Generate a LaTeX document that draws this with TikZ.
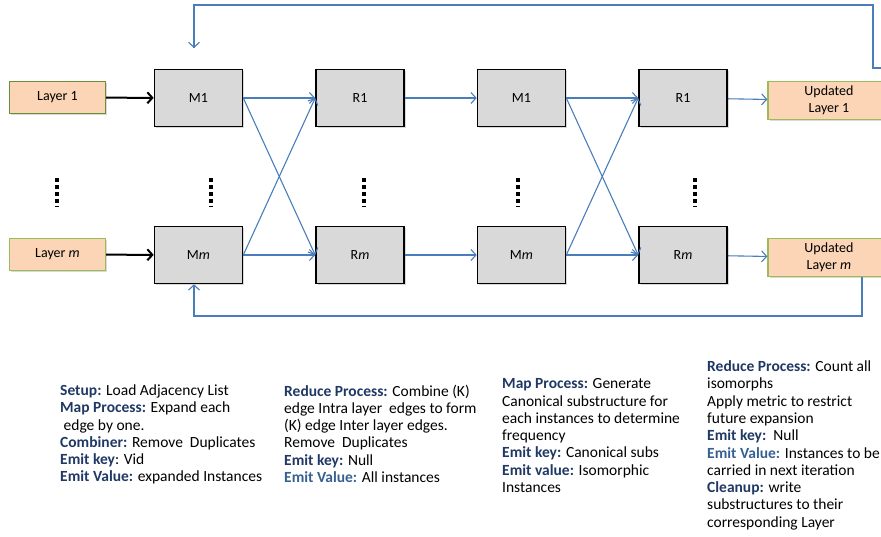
\documentclass[tikz,border=0pt]{standalone}
\usepackage{fontspec}
\setmainfont{Carlito}
\usetikzlibrary{arrows.meta,shadows}
\definecolor{flowblue}{HTML}{4A7EBB}
\definecolor{labnavy}{HTML}{1F3864}
\definecolor{lablight}{HTML}{376092}
\definecolor{peach}{HTML}{FBD5B5}
\definecolor{greenedge}{HTML}{9BBB59}
\definecolor{darkgreenedge}{HTML}{6B8E3A}
\definecolor{boxgray}{HTML}{D9D9D9}
\newcommand{\lab}[1]{\textbf{\color{labnavy}#1}}
\newcommand{\labl}[1]{\textbf{\color{lablight}#1}}
\tikzset{
  task/.style={draw=black, line width=1.6pt, fill=boxgray, minimum width=88pt,
    minimum height=57pt, inner sep=0pt,
    drop shadow={shadow xshift=1.5pt, shadow yshift=-1.5pt, opacity=0.3}},
  layerbox/.style={draw=greenedge, line width=1.3pt, fill=peach, minimum width=96pt,
    minimum height=32pt, inner sep=0pt,
    drop shadow={shadow xshift=1.5pt, shadow yshift=-1.5pt, opacity=0.3}},
  outbox/.style={layerbox, minimum width=122pt, minimum height=38pt, align=center},
  flow/.style={draw=flowblue, line width=1.1pt, -{Straight Barb[length=5pt,width=11pt]}},
  feed/.style={draw=flowblue, line width=1.1pt},
  load/.style={draw=black, line width=2pt, -{Straight Barb[length=5pt,width=11pt]}},
  vdots/.style={draw=black, line width=3.5pt, dash pattern=on 3.5pt off 3.5pt},
  notes/.style={anchor=north west, inner sep=0pt, align=left, font=\fontsize{15.5}{17.3}\selectfont}
}
\begin{document}
\begin{tikzpicture}[x=1pt, y=-1pt, font=\fontsize{14}{17.3}\selectfont]
\useasboundingbox (0,0) rectangle (881,536);

% input layers
\node[layerbox, draw=darkgreenedge] (L1) at (57.5,97.5) {Layer 1};
\node[layerbox] (Lm) at (57.5,254.5) {Layer \textit{m}};

% first map/reduce round
\node[task] (M1a) at (198.5,98) {M1};
\node[task] (Mma) at (198.5,255) {M\textit{m}};
\node[task] (R1a) at (360,98) {R1};
\node[task] (Rma) at (360,255) {R\textit{m}};

% second map/reduce round
\node[task] (M1b) at (521.5,98) {M1};
\node[task] (Mmb) at (521.5,255) {M\textit{m}};
\node[task] (R1b) at (683,98) {R1};
\node[task] (Rmb) at (683,255) {R\textit{m}};

% output layers
\node[outbox] (U1) at (829,100.5) {Updated\\Layer 1};
\node[outbox] (Um) at (829,257.5) {Updated\\Layer \textit{m}};

% vertical ellipses between rows
\foreach \x in {57,211,364,518,695}
  \draw[vdots] (\x,178) -- (\x,207);

% loading edges
\draw[load] (L1) -- (M1a);
\draw[load] (Lm) -- (Mma);

% shuffle edges, first round
\draw[flow] (M1a.east) -- (R1a.west);
\draw[flow] (Mma.east) -- (Rma.west);
\draw[flow] (M1a.east) -- (Rma.west);
\draw[flow] (Mma.east) -- (R1a.west);

% reduce to map
\draw[flow] (R1a) -- (M1b);
\draw[flow] (Rma) -- (Mmb);

% shuffle edges, second round
\draw[flow] (M1b.east) -- (R1b.west);
\draw[flow] (Mmb.east) -- (Rmb.west);
\draw[flow] (M1b.east) -- (Rmb.west);
\draw[flow] (Mmb.east) -- (R1b.west);

% reduce to output
\draw[flow] (R1b) -- (U1);
\draw[flow] (Rmb) -- (Um);

% iteration feedback loops
\coordinate (topin) at (894,68);
\coordinate (topdrop) at (194,48);
\draw[feed] (topin) -- (873,68) -- (873,5) -- (194,5) -- (topdrop);
\draw[flow] (194,40) -- (topdrop);
\draw[feed] (Um.south -| 862,0) -- (862,316) -- (194,316) -- (194,300);
\draw[flow] (194,300) -- (Mma.south -| 194,0);

% descriptions
\node[notes] (n1) at (60,384.5) {\lab{Setup:} Load Adjacency List\\
\lab{Map Process:} Expand each\\
\ edge by one.\\
\lab{Combiner:} Remove\ \ Duplicates\\
\lab{Emit key}: Vid\\
\lab{Emit Value:} expanded Instances};
\node[notes] (n2) at (284,384.5) {\lab{Reduce Process:} Combine (K)\\
edge Intra layer\ \ edges to form\\
(K) edge Inter layer edges.\\
Remove\ \ Duplicates\\
\lab{Emit key:} Null\\
\labl{Emit Value:} All instances};
\node[notes] (n3) at (502,378.5) {\lab{Map Process:} Generate\\
Canonical substructure for\\
each instances to determine\\
frequency\\
\lab{Emit key:} Canonical subs\\
\lab{Emit value:} Isomorphic\\
Instances};
\node[notes] (n4) at (707,360.5) {\lab{Reduce Process:} Count all\\
isomorphs\\
Apply metric to restrict\\
future expansion\\
\lab{Emit key:}\ \ Null\\
\labl{Emit Value:} Instances to be\\
carried in next iteration\\
\lab{Cleanup:} write\\
substructures to their\\
corresponding Layer};
\end{tikzpicture}
\end{document}
